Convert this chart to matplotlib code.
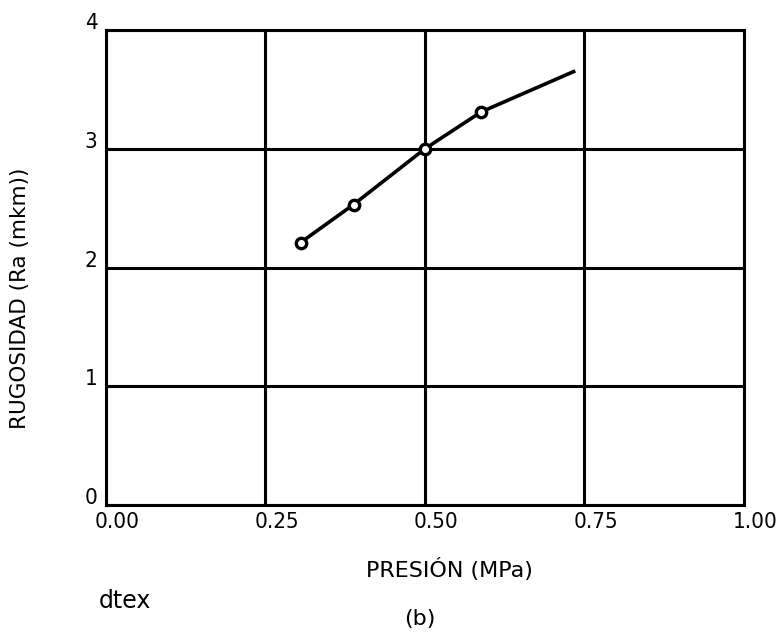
import numpy as np
import matplotlib
matplotlib.use("Agg")
import matplotlib.pyplot as plt
import matplotlib.transforms as mtransforms

# data
presion = [0.305, 0.388, 0.50, 0.588, 0.733]
rugosidad = [2.21, 2.53, 3.00, 3.31, 3.65]
marked = 4  # first four points carry circle markers

xticks = [0.0, 0.25, 0.5, 0.75, 1.0]
xticklabels = ["0.00", "0.25", "0.50", "0.75", "1.00"]
yticks = [0, 1, 2, 3, 4]

plt.rcParams['font.family'] = ['DejaVu Sans']

fig = plt.figure(figsize=(7.77, 6.33), dpi=100)
ax = fig.add_axes([0.1364, 0.2022, 0.8211, 0.7504])

ax.plot(presion, rugosidad, color='black', lw=2.6, zorder=3)
ax.plot(presion[:marked], rugosidad[:marked], 'o', ms=7.5, mfc='white',
        mec='black', mew=2.4, zorder=4)

ax.set_xlim(0, 1)
ax.set_ylim(0, 4)
ax.set_xticks(xticks)
ax.set_xticklabels(xticklabels)
ax.set_yticks(yticks)
ax.tick_params(length=0)
ax.tick_params(axis='x', labelsize=16, pad=5)
ax.tick_params(axis='y', labelsize=16, pad=6)
ax.grid(True, color='black', lw=2.2)
for s in ax.spines.values():
    s.set_linewidth(2.2)

# tick labels: narrow face, a little right / above their grid lines
for lab in ax.get_xticklabels():
    lab.set_fontstretch('condensed')
    lab.set_transform(lab.get_transform() +
                      mtransforms.ScaledTranslation(0.11, 0, fig.dpi_scale_trans))
for lab in ax.get_yticklabels():
    lab.set_fontstretch('condensed')
    lab.set_transform(lab.get_transform() +
                      mtransforms.ScaledTranslation(0, 0.09, fig.dpi_scale_trans))

fig.text(449 / 777, 1 - 569 / 633, "PRESIÓN (MPa)", fontsize=16,
         ha='center', va='center')
fig.text(20 / 777, 1 - 298 / 633, "RUGOSIDAD (Ra (mkm))", fontsize=15.5,
         rotation=90, ha='center', va='center')

fig.text(99 / 777, 1 - 601 / 633, "dtex", fontsize=17, ha='left', va='center')
fig.text(420 / 777, 1 - 619 / 633, "(b)", fontsize=16, ha='center', va='center')

fig.savefig("out.png", dpi=100)
